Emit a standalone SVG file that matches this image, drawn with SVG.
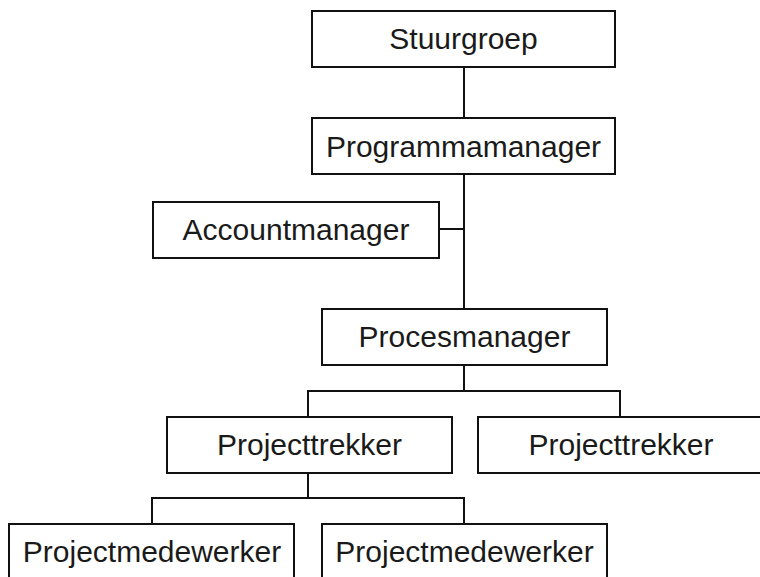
<svg xmlns="http://www.w3.org/2000/svg" width="760" height="577" viewBox="0 0 760 577">
<style>
.box{fill:#fff;stroke:#111;stroke-width:2}
.lbl{font-family:"Liberation Sans",Arial,sans-serif;font-size:30px;fill:#1a1a1a;text-anchor:middle}
.con{fill:none;stroke:#111;stroke-width:2}
</style>
<rect width="760" height="577" fill="#fff"/>
<g id="connectors">
<line class="con" x1="464" y1="67" x2="464" y2="118"/>
<line class="con" x1="464" y1="174" x2="464" y2="309"/>
<line class="con" x1="439" y1="229" x2="464" y2="229"/>
<line class="con" x1="464" y1="365" x2="464" y2="391"/>
<polyline class="con" points="308,417 308,391 620,391 620,417"/>
<line class="con" x1="308" y1="473" x2="308" y2="498"/>
<polyline class="con" points="152,524 152,498 464,498 464,524"/>
</g>
<g id="stuurgroep"><rect class="box" x="312" y="11" width="303" height="56"/><text class="lbl" x="463.5" y="49">Stuurgroep</text></g>
<g id="programmamanager"><rect class="box" x="312" y="118" width="303" height="56"/><text class="lbl" x="463.5" y="156.5">Programmamanager</text></g>
<g id="accountmanager"><rect class="box" x="153" y="202" width="286" height="56"/><text class="lbl" x="296" y="240">Accountmanager</text></g>
<g id="procesmanager"><rect class="box" x="322" y="309" width="285" height="56"/><text class="lbl" x="464.5" y="346.5">Procesmanager</text></g>
<g id="projecttrekker1"><rect class="box" x="167" y="417" width="285" height="56"/><text class="lbl" x="309.5" y="455">Projecttrekker</text></g>
<g id="projecttrekker2"><rect class="box" x="478" y="417" width="290" height="56"/><text class="lbl" x="621" y="455">Projecttrekker</text></g>
<g id="projectmedewerker1"><rect class="box" x="9" y="524" width="285" height="70"/><text class="lbl" x="152" y="562">Projectmedewerker</text></g>
<g id="projectmedewerker2"><rect class="box" x="322" y="524" width="285" height="70"/><text class="lbl" x="464.5" y="562">Projectmedewerker</text></g>
</svg>
